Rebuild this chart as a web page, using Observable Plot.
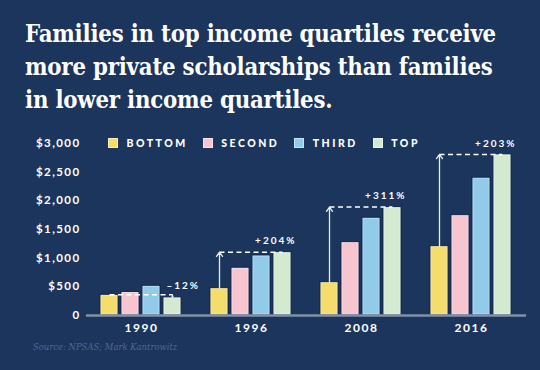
<!DOCTYPE html>
<html><head><meta charset="utf-8">
<script src="https://cdn.jsdelivr.net/npm/d3@7"></script>
<script src="https://cdn.jsdelivr.net/npm/@observablehq/plot@0.6"></script>
<style>
html,body{margin:0;padding:0;background:#1c355d;}
#wrap{position:relative;width:540px;height:370px;overflow:hidden;background:#1c355d;}
#title{position:absolute;left:25px;top:18px;width:520px;color:#fff;font-family:"DejaVu Serif",serif;font-stretch:condensed;font-weight:bold;font-size:23.7px;line-height:33px;letter-spacing:-0.2px;white-space:nowrap;}
#chart{position:absolute;left:0;top:130px;}
#legend{position:absolute;left:108px;top:137px;display:flex;align-items:center;font-family:Lato,sans-serif;font-weight:900;font-size:10.5px;letter-spacing:2.5px;color:#fff;}
#legend .item{display:flex;align-items:center;margin-right:15px;}
#legend .sw{width:8px;height:8px;margin-right:8.5px;border:0.5px solid rgba(255,255,255,0.5);}
#source{position:absolute;left:33px;top:341px;font-family:"DejaVu Serif",serif;font-stretch:condensed;font-style:italic;font-size:9.4px;color:#4d6a93;}
#chart g[aria-label="y-axis tick label"] text{letter-spacing:1.4px;}
#chart g[aria-label="fx-axis tick label"] text{letter-spacing:1.6px;}
#chart g[aria-label="text"] text{letter-spacing:2px;}
</style></head><body>
<div id="wrap">
<div id="title">Families in top income quartiles receive<br>more private scholarships than families<br>in lower income quartiles.</div>
<div id="chart"></div>
<div id="legend"></div>
<div id="source">Source: NPSAS; Mark Kantrowitz</div>
</div>
<script>
const years = ["1990", "1996", "2008", "2016"];
const quartiles = ["BOTTOM", "SECOND", "THIRD", "TOP"];
const bottomValues = [360, 476, 580, 1207];
const secondValues = [410, 831, 1277, 1747];
const thirdValues = [517, 1045, 1702, 2399];
const topValues = [315, 1103, 1887, 2805];
const changeLabels = ["\u201312%", "+204%", "+311%", "+203%"];
const quartileColors = ["#f4dd6c", "#f7c5cf", "#92cbea", "#d4ead0"];
const yTicks = [0, 500, 1000, 1500, 2000, 2500, 3000];
const yTickLabels = ["0", "$500", "$1,000", "$1,500", "$2,000", "$2,500", "$3,000"];

const series = [bottomValues, secondValues, thirdValues, topValues];
const rows = [];
years.forEach((year, i) => {
  quartiles.forEach((q, j) => rows.push({year, quartile: q, value: series[j][i]}));
});
const ann = years.map((year, i) => ({
  year,
  from: bottomValues[i],
  to: topValues[i],
  level: Math.max(bottomValues[i], topValues[i]),
  up: topValues[i] >= bottomValues[i],
  arrowAt: topValues[i] >= bottomValues[i] ? "BOTTOM" : "TOP",
  startQ: "BOTTOM",
  endQ: "TOP",
  label: changeLabels[i]
}));

const W = 540, H = 240;
const fxPadOuter = 0.1, fxPadInner = 0.2;
const mL = 84, mR = 13;
const step = (W - mL - mR) / (years.length - fxPadInner + 2 * fxPadOuter);
const ext = -step * fxPadOuter;

const chart = Plot.plot({
  width: W,
  height: H,
  marginLeft: mL,
  marginRight: mR,
  marginTop: 12.7,
  marginBottom: 55,
  style: {background: "transparent", color: "#fff", fontFamily: "Lato, sans-serif", overflow: "visible"},
  fx: {domain: years, paddingInner: fxPadInner, paddingOuter: fxPadOuter, axis: null, label: null},
  x: {domain: quartiles, padding: 0.12, axis: null},
  y: {domain: [0, 3000], axis: null},
  color: {domain: quartiles, range: quartileColors},
  marks: [
    Plot.axisY({ticks: yTicks, tickFormat: d => yTickLabels[yTicks.indexOf(d)], tickSize: 0, tickPadding: 17, fontSize: 11.5, fontWeight: "bold", fill: "#fff", label: null}),
    Plot.axisFx({anchor: "bottom", tickSize: 0, tickPadding: 8, fontSize: 12, fontWeight: "bold", fill: "#fff", label: null}),
    Plot.barY(rows, {fx: "year", x: "quartile", y: "value", fill: "quartile", stroke: "#112449", strokeWidth: 1}),
    Plot.barY(rows, {fx: "year", x: "quartile", y: "value", fill: "none", stroke: "#fff", strokeOpacity: 0.3, strokeWidth: 1, inset: 1}),
    Plot.ruleY([0], {stroke: "#8291aa", strokeWidth: 2.5, insetLeft: ext, insetRight: ext}),
    Plot.link(ann, {fx: "year", x1: "startQ", x2: "endQ", y1: "level", y2: "level", stroke: "#fff", strokeWidth: 1.5, strokeDasharray: "5,3.5"}),
    Plot.arrow(ann, {fx: "year", x1: "arrowAt", x2: "arrowAt", y1: "from", y2: "to", stroke: "#e8edf4", strokeWidth: 1.3, headLength: 6, headAngle: 70}),
    Plot.text(ann.filter(d => d.up), {fx: "year", x: "endQ", y: "level", text: "label", dy: -11, dx: 14, textAnchor: "end", fontSize: 10, fontWeight: "bold", fill: "#fff"}),
    Plot.text(ann.filter(d => !d.up), {fx: "year", x: "endQ", y: "level", text: "label", dy: -9.5, dx: 27.5, textAnchor: "end", fontSize: 10, fontWeight: "bold", fill: "#fff"})
  ]
});
document.getElementById("chart").appendChild(chart);

const legend = document.getElementById("legend");
quartiles.forEach((q, i) => {
  const item = document.createElement("div");
  item.className = "item";
  const sw = document.createElement("span");
  sw.className = "sw";
  sw.style.background = quartileColors[i];
  const t = document.createElement("span");
  t.textContent = q;
  item.appendChild(sw);
  item.appendChild(t);
  legend.appendChild(item);
});
</script>
</body></html>
